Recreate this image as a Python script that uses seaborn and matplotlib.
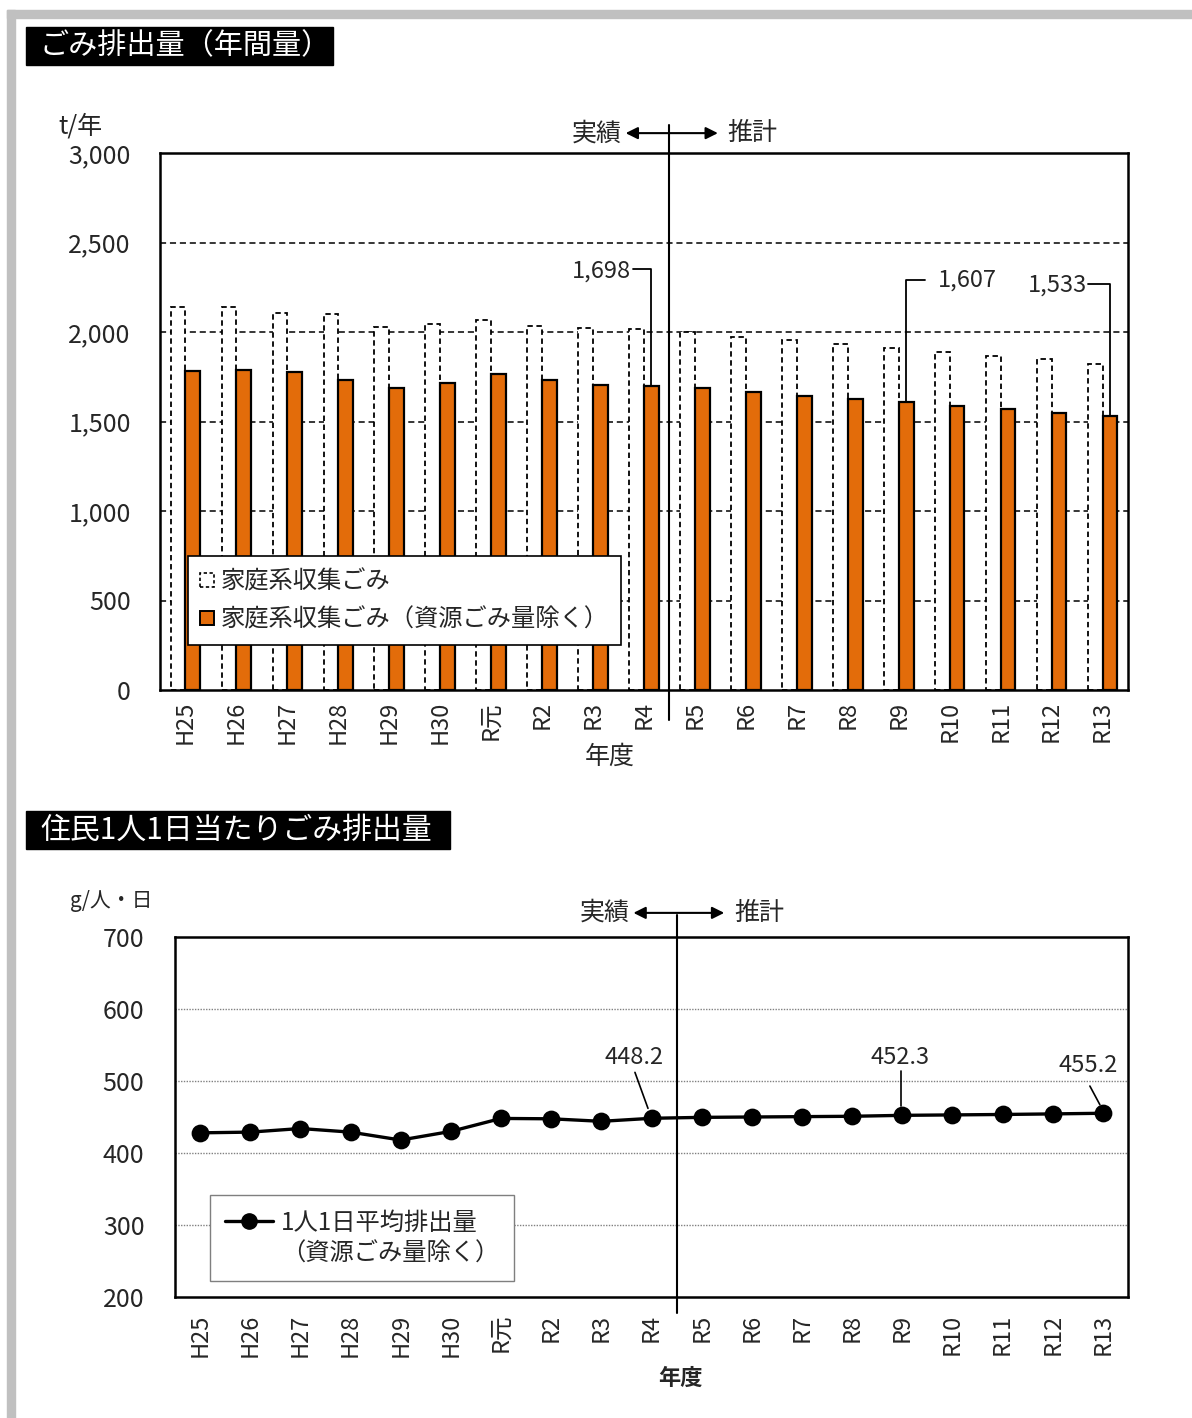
import matplotlib
matplotlib.use("Agg")
import matplotlib.pyplot as plt
import matplotlib.transforms as mtrans
from matplotlib.patches import Rectangle, Patch
from matplotlib.lines import Line2D
import pandas as pd
import seaborn as sns

# ---- data -------------------------------------------------------------
years = ["H25", "H26", "H27", "H28", "H29", "H30", "R元", "R2", "R3", "R4",
         "R5", "R6", "R7", "R8", "R9", "R10", "R11", "R12", "R13"]
household = [2138, 2138, 2105, 2099, 2026, 2046, 2065, 2034, 2024, 2015,
             1998, 1974, 1954, 1931, 1911, 1887, 1868, 1848, 1823]
household_excl = [1782, 1788, 1777, 1734, 1687, 1713, 1764, 1734, 1704, 1698,
                  1685, 1663, 1642, 1624, 1607, 1588, 1570, 1549, 1533]
per_capita = [428.0, 429.0, 434.0, 429.0, 418.0, 430.0, 448.0, 447.5, 444.0, 448.2,
              449.5, 450.0, 450.5, 451.0, 452.3, 452.9, 453.5, 454.3, 455.2]

series_names = ["家庭系収集ごみ", "家庭系収集ごみ（資源ごみ量除く）"]
line_label_1 = "1人1日平均排出量"
line_label_2 = "（資源ごみ量除く）"
bar_labels = {9: "1,698", 14: "1,607", 18: "1,533"}
line_labels = {9: "448.2", 14: "452.3", 18: "455.2"}

ORANGE = "#E36C0A"

sns.set_style("white")
plt.rcParams["font.family"] = ["Noto Sans CJK JP", "DejaVu Sans"]

W, H = 1192, 1418
fig = plt.figure(figsize=(W / 100, H / 100), dpi=100)


def fig_rect(x0, y0, x1, y1):
    return [x0 / W, 1 - y1 / H, (x1 - x0) / W, (y1 - y0) / H]


# page frame
fig.patches.append(Rectangle((7 / W, 1 - 18 / H), 1 - 7 / W, 8 / H,
                             transform=fig.transFigure, color="#C0C0C0", zorder=0))
fig.patches.append(Rectangle((7 / W, 0), 8 / W, 1 - 10 / H,
                             transform=fig.transFigure, color="#C0C0C0", zorder=0))


def section_title(x0, y0, x1, y1, text, size):
    fig.patches.append(Rectangle((x0 / W, 1 - y1 / H), (x1 - x0) / W, (y1 - y0) / H,
                                 transform=fig.transFigure, color="black", zorder=1))
    fig.text((x0 + 14) / W, 1 - (y0 + y1) / 2 / H, text, color="white",
             fontsize=size, va="center", ha="left", zorder=2)


section_title(26, 27, 333, 65, "ごみ排出量（年間量）", 21)
section_title(26, 811, 450, 849, "住民1人1日当たりごみ排出量", 21.5)

# ---- annual amount bar chart ------------------------------------------
ax1 = fig.add_axes(fig_rect(160, 153, 1128, 690))
df = pd.DataFrame({
    "年度": years * 2,
    "series": [series_names[0]] * len(years) + [series_names[1]] * len(years),
    "value": household + household_excl,
})
sns.barplot(data=df, x="年度", y="value", hue="series",
            palette=["white", ORANGE], saturation=1, width=0.58,
            edgecolor="black", linewidth=1.6, legend=False, ax=ax1, zorder=2)
for p in ax1.containers[0]:
    p.set_linestyle((0, (3, 2)))
    p.set_linewidth(1.3)

ax1.set_ylim(0, 3000)
ax1.set_xlim(-0.5, len(years) - 0.5)
ax1.set_yticks(range(0, 3001, 500))
ax1.set_yticklabels([f"{v:,}" for v in range(0, 3001, 500)])
for v in range(500, 3000, 500):
    ax1.axhline(v, color="black", linestyle=(0, (4, 2.5)), linewidth=1.1, zorder=1)
ax1.tick_params(axis="y", length=0, pad=21, labelsize=18)
ax1.tick_params(axis="x", length=0, pad=8, labelsize=17, rotation=90)
ax1.set_xlabel("年度", fontsize=18)
ax1.xaxis.set_label_coords(0.465, -0.10)
ax1.set_ylabel("")
for s in ax1.spines.values():
    s.set_color("black")
    s.set_linewidth(1.8)
fig.text(58 / W, 1 - 127 / H, "t/年", fontsize=18, va="center", ha="left")

leg1 = ax1.legend(
    handles=[Patch(facecolor="white", edgecolor="black", linestyle=(0, (2, 1.5)), linewidth=1.2),
             Patch(facecolor=ORANGE, edgecolor="black", linewidth=1.4)],
    labels=series_names, loc="lower left", bbox_to_anchor=(0.029, 0.084),
    fontsize=17.5, frameon=True, fancybox=False, edgecolor="black", framealpha=1,
    handlelength=0.55, handleheight=0.55, handletextpad=0.3,
    labelspacing=0.5, borderpad=0.5, borderaxespad=0)
leg1.get_frame().set_linewidth(1.2)
leg1.set_zorder(5)

blend1 = mtrans.blended_transform_factory(ax1.transData, ax1.transAxes)
ax1.plot([9.5, 9.5], [1.052, -0.056], color="black", lw=1.5,
         transform=blend1, clip_on=False, zorder=6)
ax1.annotate("", xy=(8.64, 1.037), xytext=(10.45, 1.037), xycoords=blend1,
             textcoords=blend1,
             arrowprops=dict(arrowstyle="<|-|>", color="black", lw=1.5,
                             mutation_scale=18, shrinkA=0, shrinkB=0))
ax1.text(8.57, 1.037, "実績", transform=blend1, ha="right", va="center", fontsize=18)
ax1.text(10.64, 1.037, "推計", transform=blend1, ha="left", va="center", fontsize=18)

# value call-outs for the orange bars
bx = {i: i + 0.145 for i in bar_labels}
ax1.plot([8.78, bx[9], bx[9]], [2350, 2350, household_excl[9]],
         color="black", lw=1.3, zorder=6)
ax1.text(8.74, 2340, bar_labels[9], ha="right", va="center", fontsize=17)
ax1.plot([14.51, bx[14], bx[14]], [2290, 2290, household_excl[14]],
         color="black", lw=1.3, zorder=6)
ax1.text(14.77, 2290, bar_labels[14], ha="left", va="center", fontsize=17)
ax1.plot([17.71, bx[18], bx[18]], [2268, 2268, household_excl[18]],
         color="black", lw=1.3, zorder=6, clip_on=False)
ax1.text(17.69, 2262, bar_labels[18], ha="right", va="center", fontsize=17)

# ---- per-capita daily line chart --------------------------------------
ax2 = fig.add_axes(fig_rect(175, 937, 1128, 1297))
df2 = pd.DataFrame({"年度": years, "value": per_capita})
sns.pointplot(data=df2, x="年度", y="value", color="black", markers="o",
              markersize=11, linewidth=2.4, errorbar=None, ax=ax2, zorder=4)
ax2.set_ylim(200, 700)
ax2.set_xlim(-0.5, len(years) - 0.5)
ax2.set_yticks(range(200, 701, 100))
for v in range(300, 700, 100):
    ax2.axhline(v, color="#808080", linestyle=(0, (1, 1)), linewidth=1.0, zorder=1)
ax2.set_xticks([i + 0.5 for i in range(len(years) - 1)], minor=True)
ax2.tick_params(axis="x", which="minor", direction="in", length=6, width=1, color="black")
ax2.tick_params(axis="y", length=0, pad=22, labelsize=18)
ax2.tick_params(axis="x", which="major", length=0, pad=12, labelsize=17, rotation=90)
ax2.set_xlabel("年度", fontsize=16, fontweight="bold")
ax2.xaxis.set_label_coords(0.53, -0.194)
ax2.set_ylabel("")
for s in ax2.spines.values():
    s.set_color("black")
    s.set_linewidth(1.8)
fig.text(70 / W, 1 - 901 / H, "g/人・日", fontsize=15, va="center", ha="left")

leg2 = ax2.legend(
    handles=[Line2D([], [], color="black", lw=2.4, marker="o", markersize=11),
             Line2D([], [], color="none")],
    labels=[line_label_1, line_label_2], loc="lower left",
    bbox_to_anchor=(0.037, 0.044), fontsize=17.5, frameon=True, fancybox=False,
    edgecolor="#7F7F7F", framealpha=1, handlelength=2.0, handletextpad=0.3,
    labelspacing=0.2, borderpad=0.6, borderaxespad=0)
leg2.get_frame().set_linewidth(1.0)
leg2.set_zorder(5)

blend2 = mtrans.blended_transform_factory(ax2.transData, ax2.transAxes)
ax2.plot([9.5, 9.5], [1.061, -0.044], color="black", lw=1.5,
         transform=blend2, clip_on=False, zorder=6)
ax2.annotate("", xy=(8.64, 1.067), xytext=(10.45, 1.067), xycoords=blend2,
             textcoords=blend2,
             arrowprops=dict(arrowstyle="<|-|>", color="black", lw=1.5,
                             mutation_scale=18, shrinkA=0, shrinkB=0))
ax2.text(8.57, 1.067, "実績", transform=blend2, ha="right", va="center", fontsize=18)
ax2.text(10.66, 1.067, "推計", transform=blend2, ha="left", va="center", fontsize=18)

ax2.plot([8.67, 8.93], [512, 462], color="black", lw=1.2, zorder=3)
ax2.text(8.65, 532, line_labels[9], ha="center", va="center", fontsize=17)
ax2.plot([13.97, 13.97], [514, 465], color="black", lw=1.2, zorder=3)
ax2.text(13.95, 533, line_labels[14], ha="center", va="center", fontsize=17)
ax2.plot([17.74, 17.94], [493, 467], color="black", lw=1.2, zorder=3)
ax2.text(17.7, 521, line_labels[18], ha="center", va="center", fontsize=17)

fig.savefig("out.png", dpi=100, facecolor="white")
